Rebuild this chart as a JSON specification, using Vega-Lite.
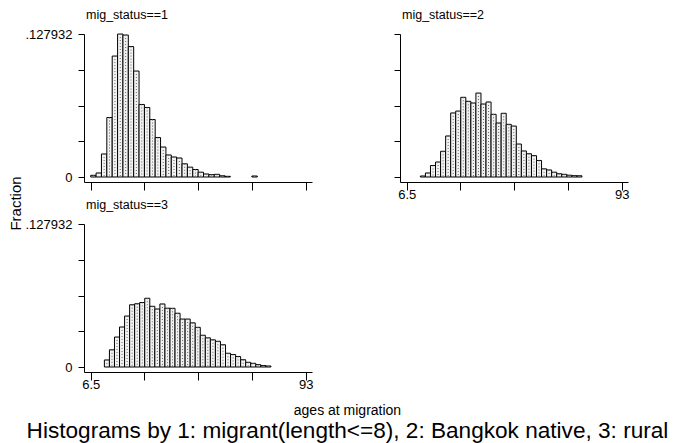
{
  "$schema": "https://vega.github.io/schema/vega-lite/v6.json",
  "padding": {"left": 8, "top": 8, "right": 0, "bottom": 0},
  "background": "white",
  "datasets": {
    "p1": [
      {"lo": 6.50, "hi": 8.66, "mid": 7.58, "f": 0.0015},
      {"lo": 8.66, "hi": 10.82, "mid": 9.74, "f": 0.0036},
      {"lo": 10.82, "hi": 12.98, "mid": 11.90, "f": 0.0206},
      {"lo": 12.98, "hi": 15.15, "mid": 14.06, "f": 0.0532},
      {"lo": 15.15, "hi": 17.31, "mid": 16.23, "f": 0.1082},
      {"lo": 17.31, "hi": 19.47, "mid": 18.39, "f": 0.1279},
      {"lo": 19.47, "hi": 21.63, "mid": 20.55, "f": 0.1270},
      {"lo": 21.63, "hi": 23.79, "mid": 22.71, "f": 0.1167},
      {"lo": 23.79, "hi": 25.95, "mid": 24.87, "f": 0.0948},
      {"lo": 25.95, "hi": 28.11, "mid": 27.03, "f": 0.0649},
      {"lo": 28.11, "hi": 30.27, "mid": 29.19, "f": 0.0622},
      {"lo": 30.27, "hi": 32.44, "mid": 31.35, "f": 0.0514},
      {"lo": 32.44, "hi": 34.60, "mid": 33.52, "f": 0.0353},
      {"lo": 34.60, "hi": 36.76, "mid": 35.68, "f": 0.0268},
      {"lo": 36.76, "hi": 38.92, "mid": 37.84, "f": 0.0197},
      {"lo": 38.92, "hi": 41.08, "mid": 40.00, "f": 0.0179},
      {"lo": 41.08, "hi": 43.24, "mid": 42.16, "f": 0.0170},
      {"lo": 43.24, "hi": 45.40, "mid": 44.32, "f": 0.0118},
      {"lo": 45.40, "hi": 47.56, "mid": 46.48, "f": 0.0088},
      {"lo": 47.56, "hi": 49.73, "mid": 48.64, "f": 0.0067},
      {"lo": 49.73, "hi": 51.89, "mid": 50.81, "f": 0.0043},
      {"lo": 51.89, "hi": 54.05, "mid": 52.97, "f": 0.0027},
      {"lo": 54.05, "hi": 56.21, "mid": 55.13, "f": 0.0021},
      {"lo": 56.21, "hi": 58.37, "mid": 57.29, "f": 0.0024},
      {"lo": 58.37, "hi": 60.53, "mid": 59.45, "f": 0.0011},
      {"lo": 60.53, "hi": 62.69, "mid": 61.61, "f": 0.0006},
      {"lo": 71.34, "hi": 73.50, "mid": 72.42, "f": 0.0009}
    ],
    "p2": [
      {"lo": 12.00, "hi": 14.03, "mid": 13.02, "f": 0.0009},
      {"lo": 14.03, "hi": 16.06, "mid": 15.05, "f": 0.0036},
      {"lo": 16.06, "hi": 18.09, "mid": 17.08, "f": 0.0103},
      {"lo": 18.09, "hi": 20.13, "mid": 19.11, "f": 0.0134},
      {"lo": 20.13, "hi": 22.16, "mid": 21.14, "f": 0.0230},
      {"lo": 22.16, "hi": 24.19, "mid": 23.17, "f": 0.0367},
      {"lo": 24.19, "hi": 26.22, "mid": 25.20, "f": 0.0573},
      {"lo": 26.22, "hi": 28.25, "mid": 27.23, "f": 0.0590},
      {"lo": 28.25, "hi": 30.28, "mid": 29.27, "f": 0.0713},
      {"lo": 30.28, "hi": 32.31, "mid": 31.30, "f": 0.0677},
      {"lo": 32.31, "hi": 34.34, "mid": 33.33, "f": 0.0662},
      {"lo": 34.34, "hi": 36.38, "mid": 35.36, "f": 0.0751},
      {"lo": 36.38, "hi": 38.41, "mid": 37.39, "f": 0.0653},
      {"lo": 38.41, "hi": 40.44, "mid": 39.42, "f": 0.0671},
      {"lo": 40.44, "hi": 42.47, "mid": 41.45, "f": 0.0561},
      {"lo": 42.47, "hi": 44.50, "mid": 43.48, "f": 0.0483},
      {"lo": 44.50, "hi": 46.53, "mid": 45.52, "f": 0.0570},
      {"lo": 46.53, "hi": 48.56, "mid": 47.55, "f": 0.0471},
      {"lo": 48.56, "hi": 50.59, "mid": 49.58, "f": 0.0456},
      {"lo": 50.59, "hi": 52.63, "mid": 51.61, "f": 0.0295},
      {"lo": 52.63, "hi": 54.66, "mid": 53.64, "f": 0.0233},
      {"lo": 54.66, "hi": 56.69, "mid": 55.67, "f": 0.0208},
      {"lo": 56.69, "hi": 58.72, "mid": 57.70, "f": 0.0191},
      {"lo": 58.72, "hi": 60.75, "mid": 59.73, "f": 0.0148},
      {"lo": 60.75, "hi": 62.78, "mid": 61.77, "f": 0.0073},
      {"lo": 62.78, "hi": 64.81, "mid": 63.80, "f": 0.0063},
      {"lo": 64.81, "hi": 66.84, "mid": 65.83, "f": 0.0043},
      {"lo": 66.84, "hi": 68.88, "mid": 67.86, "f": 0.0029},
      {"lo": 68.88, "hi": 70.91, "mid": 69.89, "f": 0.0024},
      {"lo": 70.91, "hi": 72.94, "mid": 71.92, "f": 0.0016},
      {"lo": 72.94, "hi": 74.97, "mid": 73.95, "f": 0.0012},
      {"lo": 74.97, "hi": 77.00, "mid": 75.98, "f": 0.0011}
    ],
    "p3": [
      {"lo": 12.00, "hi": 14.03, "mid": 13.02, "f": 0.0063},
      {"lo": 14.03, "hi": 16.06, "mid": 15.05, "f": 0.0154},
      {"lo": 16.06, "hi": 18.09, "mid": 17.08, "f": 0.0268},
      {"lo": 18.09, "hi": 20.12, "mid": 19.11, "f": 0.0358},
      {"lo": 20.12, "hi": 22.15, "mid": 21.14, "f": 0.0456},
      {"lo": 22.15, "hi": 24.18, "mid": 23.17, "f": 0.0557},
      {"lo": 24.18, "hi": 26.21, "mid": 25.20, "f": 0.0566},
      {"lo": 26.21, "hi": 28.24, "mid": 27.23, "f": 0.0577},
      {"lo": 28.24, "hi": 30.27, "mid": 29.26, "f": 0.0615},
      {"lo": 30.27, "hi": 32.30, "mid": 31.29, "f": 0.0543},
      {"lo": 32.30, "hi": 34.33, "mid": 33.32, "f": 0.0519},
      {"lo": 34.33, "hi": 36.36, "mid": 35.35, "f": 0.0564},
      {"lo": 36.36, "hi": 38.39, "mid": 37.38, "f": 0.0526},
      {"lo": 38.39, "hi": 40.42, "mid": 39.41, "f": 0.0525},
      {"lo": 40.42, "hi": 42.45, "mid": 41.44, "f": 0.0481},
      {"lo": 42.45, "hi": 44.48, "mid": 43.47, "f": 0.0429},
      {"lo": 44.48, "hi": 46.52, "mid": 45.50, "f": 0.0429},
      {"lo": 46.52, "hi": 48.55, "mid": 47.53, "f": 0.0395},
      {"lo": 48.55, "hi": 50.58, "mid": 49.56, "f": 0.0355},
      {"lo": 50.58, "hi": 52.61, "mid": 51.59, "f": 0.0284},
      {"lo": 52.61, "hi": 54.64, "mid": 53.62, "f": 0.0261},
      {"lo": 54.64, "hi": 56.67, "mid": 55.65, "f": 0.0243},
      {"lo": 56.67, "hi": 58.70, "mid": 57.68, "f": 0.0230},
      {"lo": 58.70, "hi": 60.73, "mid": 59.71, "f": 0.0199},
      {"lo": 60.73, "hi": 62.76, "mid": 61.74, "f": 0.0123},
      {"lo": 62.76, "hi": 64.79, "mid": 63.77, "f": 0.0112},
      {"lo": 64.79, "hi": 66.82, "mid": 65.80, "f": 0.0094},
      {"lo": 66.82, "hi": 68.85, "mid": 67.83, "f": 0.0065},
      {"lo": 68.85, "hi": 70.88, "mid": 69.86, "f": 0.0042},
      {"lo": 70.88, "hi": 72.91, "mid": 71.89, "f": 0.0033},
      {"lo": 72.91, "hi": 74.94, "mid": 73.92, "f": 0.0021},
      {"lo": 74.94, "hi": 76.97, "mid": 75.95, "f": 0.0013},
      {"lo": 76.97, "hi": 79.00, "mid": 77.98, "f": 0.0009}
    ]
  },
  "columns": 2,
  "spacing": {"row": 42, "column": 88},
  "bounds": "flush",
  "title": {
    "text": "ages at migration",
    "subtitle": "Histograms by 1: migrant(length<=8), 2: Bangkok native, 3: rural",
    "orient": "bottom",
    "anchor": "middle",
    "fontSize": 14,
    "fontWeight": "normal",
    "color": "black",
    "subtitleFontSize": 22.6,
    "subtitleColor": "black",
    "subtitlePadding": 2,
    "offset": 13,
    "dx": 29
  },
  "concat": [
    {
      "width": 228,
      "height": 148,
      "data": {"name": "p1"},
      "title": {"text": "mig_status==1", "anchor": "start", "frame": "group", "offset": 7, "dx": 2},
      "encoding": {
        "x": {"field": "lo", "type": "quantitative", "scale": {"domain": [3.8, 95.53], "nice": false, "zero": false},
          "axis": {"values": [6.5, 28.125, 49.75, 71.375, 93], "labels": false, "title": null, "tickSize": 8}},
        "y": {"field": "f", "type": "quantitative", "scale": {"domain": [-0.00447, 0.127932], "nice": false, "zero": false},
          "axis": {"values": [0, 0.031983, 0.063966, 0.095949, 0.127932],
            "labelExpr": "datum.value == 0 ? '0' : (datum.value > 0.12 ? '.127932' : '')",
            "title": "Fraction", "titleX": -69, "titleY": 169, "titleAlign": "center", "titleBaseline": "middle", "titleAngle": -90, "titleFontSize": 15, "titleFontWeight": "normal"}}
      },
      "layer": [
        {"mark": {"type": "bar", "fill": "#f2f2f2", "stroke": "black", "strokeWidth": 1}, "encoding": {"x2": {"field": "hi"}, "y2": {"datum": 0}}},
        {"mark": {"type": "rule", "stroke": "#666666", "strokeWidth": 1, "strokeDash": [1, 2]}, "encoding": {"x": {"field": "mid", "type": "quantitative"}, "y2": {"datum": 0}}}
      ]
    },
    {
      "width": 228,
      "height": 148,
      "data": {"name": "p2"},
      "title": {"text": "mig_status==2", "anchor": "start", "frame": "group", "offset": 12, "dx": 2},
      "encoding": {
        "x": {"field": "lo", "type": "quantitative", "scale": {"domain": [3.8, 95.53], "nice": false, "zero": false},
          "axis": {"values": [6.5, 28.125, 49.75, 71.375, 93], "labelExpr": "datum.value == 6.5 ? '6.5' : (datum.value == 93 ? '93' : '')", "title": null, "tickSize": 8, "labelPadding": -2}},
        "y": {"field": "f", "type": "quantitative", "scale": {"domain": [-0.00447, 0.127932], "nice": false, "zero": false},
          "axis": {"values": [0, 0.031983, 0.063966, 0.095949, 0.127932], "labels": false, "title": null}}
      },
      "layer": [
        {"mark": {"type": "bar", "fill": "#f2f2f2", "stroke": "black", "strokeWidth": 1}, "encoding": {"x2": {"field": "hi"}, "y2": {"datum": 0}}},
        {"mark": {"type": "rule", "stroke": "#666666", "strokeWidth": 1, "strokeDash": [1, 2]}, "encoding": {"x": {"field": "mid", "type": "quantitative"}, "y2": {"datum": 0}}}
      ]
    },
    {
      "width": 228,
      "height": 148,
      "data": {"name": "p3"},
      "title": {"text": "mig_status==3", "anchor": "start", "frame": "group", "offset": 7, "dx": 2},
      "encoding": {
        "x": {"field": "lo", "type": "quantitative", "scale": {"domain": [3.8, 95.53], "nice": false, "zero": false},
          "axis": {"values": [6.5, 28.125, 49.75, 71.375, 93], "labelExpr": "datum.value == 6.5 ? '6.5' : (datum.value == 93 ? '93' : '')", "title": null, "tickSize": 8, "labelPadding": -2}},
        "y": {"field": "f", "type": "quantitative", "scale": {"domain": [-0.00447, 0.127932], "nice": false, "zero": false},
          "axis": {"values": [0, 0.031983, 0.063966, 0.095949, 0.127932],
            "labelExpr": "datum.value == 0 ? '0' : (datum.value > 0.12 ? '.127932' : '')", "title": null}}
      },
      "layer": [
        {"mark": {"type": "bar", "fill": "#f2f2f2", "stroke": "black", "strokeWidth": 1}, "encoding": {"x2": {"field": "hi"}, "y2": {"datum": 0}}},
        {"mark": {"type": "rule", "stroke": "#666666", "strokeWidth": 1, "strokeDash": [1, 2]}, "encoding": {"x": {"field": "mid", "type": "quantitative"}, "y2": {"datum": 0}}}
      ]
    }
  ],
  "config": {
    "font": "Liberation Sans",
    "view": {"stroke": null},
    "title": {"fontSize": 12.5, "fontWeight": "normal", "color": "black"},
    "axis": {
      "grid": false,
      "domainColor": "black",
      "domainWidth": 1,
      "tickColor": "black",
      "tickWidth": 1,
      "tickSize": 6,
      "labelColor": "black",
      "labelFontSize": 13,
      "labelPadding": 6,
      "labelOverlap": false,
      "labelFlush": false,
      "titleColor": "black"
    }
  }
}
